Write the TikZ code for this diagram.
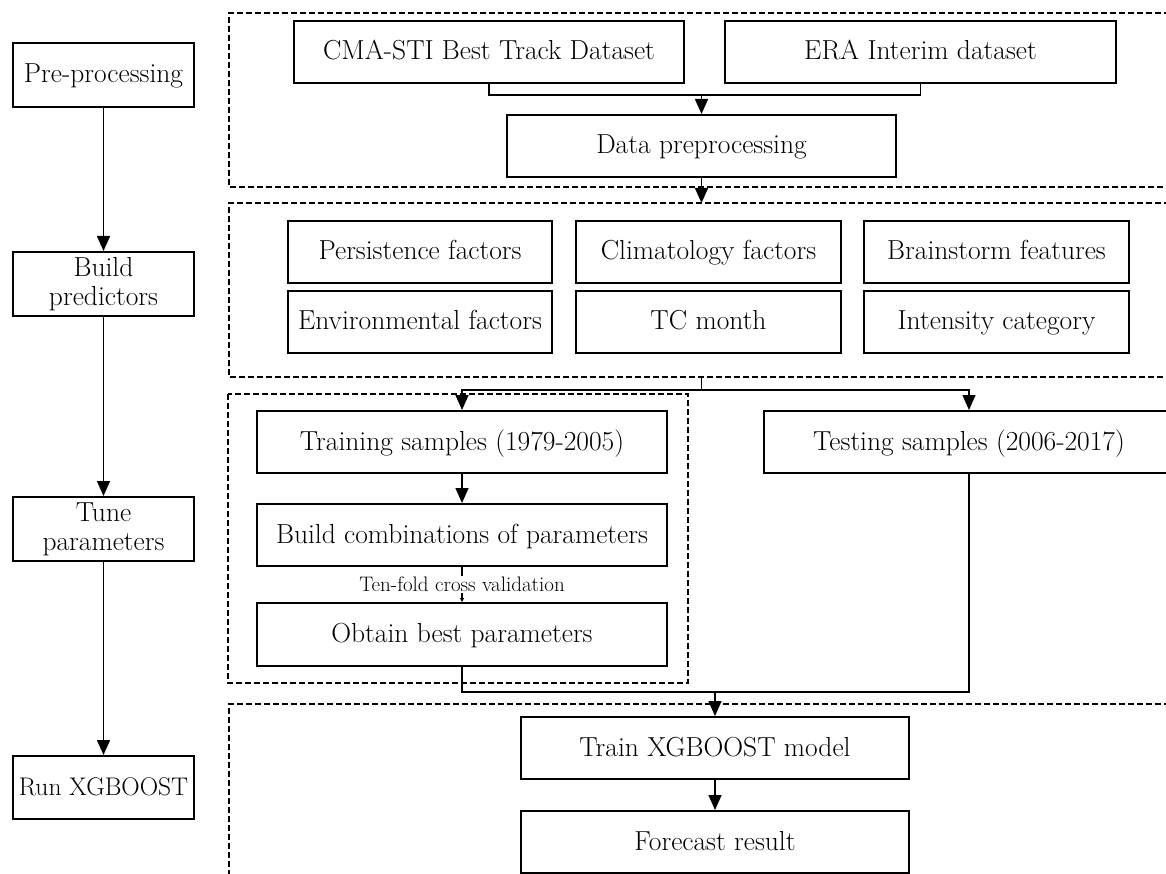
\documentclass[tikz,border=0pt]{standalone}
\usetikzlibrary{arrows.meta}
\begin{document}
\begin{tikzpicture}[x=1pt,y=-1pt,
  basebox/.style={draw, line width=2pt, minimum width=#1, minimum height=62pt, inner sep=0pt,
    font=\fontsize{27.5}{29}\selectfont, align=center},
  box/.style={basebox=#1, text height=20pt, text depth=4pt},
  conn/.style={line width=1.5pt},
  arr/.style={conn, -{Triangle[width=13pt,length=15pt]}},
  smallarr/.style={conn, -{Triangle[width=4pt,length=4pt]}},
  dbox/.style={line width=2.2pt, dash pattern=on 6pt off 3pt},
  lbl/.style={fill=white, inner sep=1pt, font=\fontsize{21}{24}\selectfont}]
\useasboundingbox (0,0) rectangle (1166,874);
\clip (0,0) rectangle (1166,874);
% left column
\node[box=181pt, minimum height=64pt] (pre) at (103.5,75) {Pre-processing};
\node[basebox=181pt, minimum height=64pt] (bld) at (103.5,284) {Build\\predictors};
\node[basebox=181pt, minimum height=64pt] (tune) at (103.5,529) {Tune\\parameters};
\node[box=181pt, minimum height=63pt, font=\fontsize{25.5}{28}\selectfont] (run) at (103.5,787.5) {Run XGBOOST};
\draw[arr] (pre) -- (bld);
\draw[arr] (bld) -- (tune);
\draw[arr] (tune) -- (run);
% dashed groups
\draw[dbox] (1170,13) -- (229,13) -- (229,187) -- (1170,187);
\draw[dbox] (1170,203) -- (229,203) -- (229,377) -- (1170,377);
\draw[dbox] (228,394) rectangle (688,683);
\draw[dbox] (1170,704) -- (229,704) -- (229,880);
% stage 1
\node[box=390pt] (cma) at (489,52) {CMA-STI Best Track Dataset};
\node[box=391pt] (era) at (920.5,52) {ERA Interim dataset};
\node[box=389pt] (data) at (701.5,146) {Data preprocessing};
\coordinate (m1) at (701.5,95);
\draw[conn] (cma.south) |- (m1) -| (era.south);
\draw[arr] (m1) -- (data.north);
\coordinate (b2top) at (701.5,203);
\draw[arr] (data.south) -- (b2top);
% stage 2
\node[box=264pt] (pers) at (420,252) {Persistence factors};
\node[box=264pt] (env) at (420,322) {Environmental factors};
\node[box=265pt] (clim) at (708.5,252) {Climatology factors};
\node[box=265pt] (tcm) at (708.5,322) {TC month};
\node[box=265pt] (brain) at (996.5,252) {Brainstorm features};
\node[box=265pt] (inten) at (996.5,322) {Intensity category};
% stage 3
\node[box=410pt] (train) at (462,442) {Training samples (1979-2005)};
\node[box=410pt] (comb) at (462,535) {Build combinations of parameters};
\node[box=410pt, minimum height=63pt] (obt) at (462,634.5) {Obtain best parameters};
\node[box=410pt] (test) at (969,442) {Testing samples (2006-2017)};
\coordinate (b2bot) at (701.5,377);
\coordinate (m2) at (701.5,390);
\draw[conn] (b2bot) -- (m2);
\draw[arr] (m2) -| (train.north);
\draw[arr] (m2) -| (test.north);
\draw[arr] (train) -- (comb);
\draw[smallarr] (comb.south) -- node[lbl] {Ten-fold cross validation} (obt.north);
% stage 4
\node[box=388pt] (xgb) at (715,748) {Train XGBOOST model};
\node[box=388pt] (fore) at (715,842) {Forecast result};
\coordinate (m3) at (715,692);
\draw[conn] (obt.south) |- (m3) -| (test.south);
\draw[arr] (m3) -- (xgb.north);
\draw[arr] (xgb) -- (fore);
\end{tikzpicture}
\end{document}
